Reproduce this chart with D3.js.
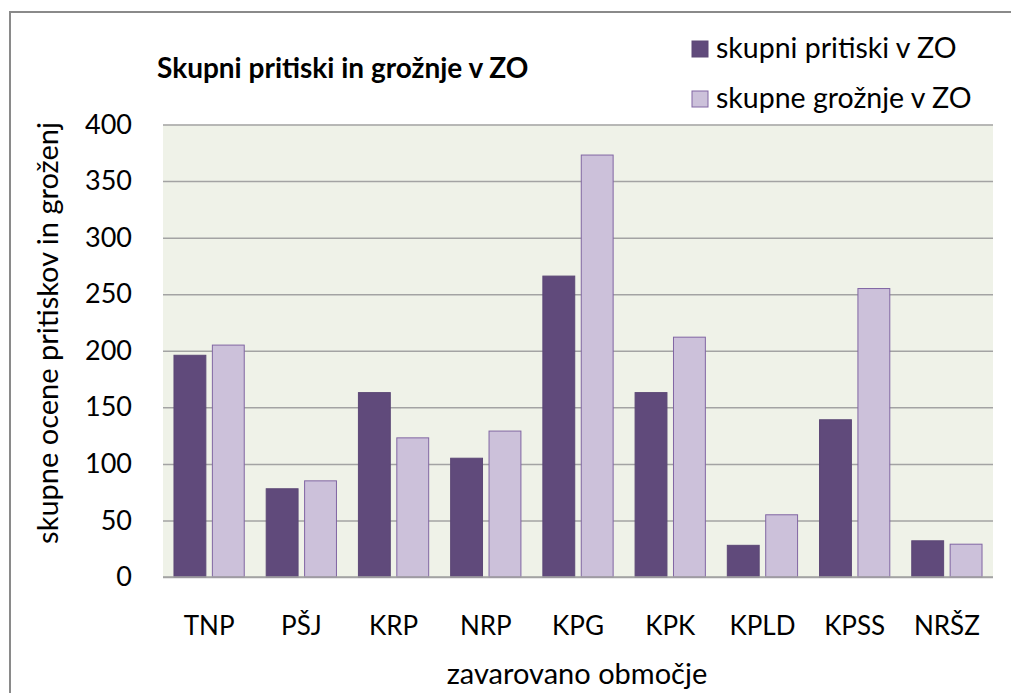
<!DOCTYPE html>
<html>
<head>
<meta charset="utf-8">
<script src="https://cdn.jsdelivr.net/npm/d3@7"></script>
<style>
  body { margin: 0; background: #fff; }
  text { font-family: Lato, "Open Sans", sans-serif; fill: #000; }
</style>
</head>
<body>
<div id="chart"></div>
<script>
// Chart data
const categories = ['TNP', 'PŠJ', 'KRP', 'NRP', 'KPG', 'KPK', 'KPLD', 'KPSS', 'NRŠZ'];
const seriesNames = ['skupni pritiski v ZO', 'skupne grožnje v ZO'];
const pritiski = [196, 78, 163, 105, 266, 163, 28, 139, 32];
const groznje = [205, 85, 123, 129, 373, 212, 55, 255, 29];
const yTicks = [0, 50, 100, 150, 200, 250, 300, 350, 400];

const W = 1011, H = 693;
const plot = { left: 163, right: 993, top: 124.5, bottom: 577 };
const fills = ['#604A7B', '#CCC1DA'];
const strokes = ['#5C4876', '#8166A3'];

const svg = d3.select('#chart').append('svg')
    .attr('width', W)
    .attr('height', H);

// chart frame (runs past the window on the right and bottom)
svg.append('rect')
    .attr('x', 10).attr('y', 12)
    .attr('width', 1040).attr('height', 720)
    .attr('fill', '#fff')
    .attr('stroke', '#8A8A8A')
    .attr('stroke-width', 2);

const x0 = d3.scaleBand()
    .domain(categories)
    .range([plot.left, plot.right]);

const x1 = d3.scaleBand()
    .domain(seriesNames)
    .range([0, x0.bandwidth()])
    .paddingInner(0.17)
    .paddingOuter(0.286);

const y = d3.scaleLinear()
    .domain([0, 400])
    .range([plot.bottom, plot.top]);

// plot background
svg.append('rect')
    .attr('x', plot.left).attr('y', plot.top)
    .attr('width', plot.right - plot.left)
    .attr('height', plot.bottom - plot.top)
    .attr('fill', '#EFF2E8');

// gridlines via axis
const grid = svg.append('g')
    .attr('transform', `translate(${plot.left},0)`)
    .call(d3.axisLeft(y).tickValues(yTicks).tickSize(-(plot.right - plot.left)).tickFormat(''));
grid.select('.domain').remove();
grid.selectAll('.tick line').attr('stroke', '#A3A3A3').attr('stroke-width', 1.5);

// y tick labels
const yAxis = svg.append('g')
    .attr('transform', `translate(${plot.left},0)`)
    .call(d3.axisLeft(y).tickValues(yTicks).tickSize(0).tickPadding(31));
yAxis.select('.domain').remove();
yAxis.selectAll('text')
    .attr('font-size', 27)
    .attr('font-family', 'Lato, sans-serif')
    .attr('fill', '#000');

// bars
const rows = categories.map((c, i) => ({ cat: c, vals: [pritiski[i], groznje[i]] }));
const groups = svg.append('g').selectAll('g')
    .data(rows)
    .join('g')
    .attr('transform', d => `translate(${x0(d.cat)},0)`);

groups.selectAll('rect')
    .data(d => d.vals.map((v, k) => ({ key: seriesNames[k], k, v })))
    .join('rect')
    .attr('x', d => x1(d.key))
    .attr('y', d => y(d.v))
    .attr('width', x1.bandwidth())
    .attr('height', d => y(0) - y(d.v))
    .attr('fill', d => fills[d.k])
    .attr('stroke', d => strokes[d.k])
    .attr('stroke-width', 1);

// zero line on top
svg.append('line')
    .attr('x1', plot.left).attr('x2', plot.right)
    .attr('y1', y(0)).attr('y2', y(0))
    .attr('stroke', '#A3A3A3').attr('stroke-width', 1.5);

// x axis labels
const xAxis = svg.append('g')
    .attr('transform', `translate(0,${plot.bottom})`)
    .call(d3.axisBottom(x0).tickSize(0).tickPadding(40));
xAxis.select('.domain').remove();
xAxis.selectAll('text')
    .attr('font-size', 26)
    .attr('font-family', 'Lato, sans-serif')
    .attr('fill', '#000');

// axis titles
svg.append('text')
    .attr('x', (plot.left + plot.right) / 2 - 1)
    .attr('y', 684)
    .attr('text-anchor', 'middle')
    .attr('font-size', 29)
    .text('zavarovano območje');

svg.append('text')
    .attr('transform', 'translate(58,333) rotate(-90)')
    .attr('text-anchor', 'middle')
    .attr('font-size', 29)
    .text('skupne ocene pritiskov in groženj');

// title
svg.append('text')
    .attr('x', 157)
    .attr('y', 78)
    .attr('font-size', 28)
    .attr('font-weight', 'bold')
    .text('Skupni pritiski in grožnje v ZO');

// legend
const legend = svg.append('g')
    .selectAll('g')
    .data(seriesNames)
    .join('g')
    .attr('transform', (d, i) => `translate(692,${i === 0 ? 41 : 91})`);

legend.append('rect')
    .attr('width', 16).attr('height', 16)
    .attr('fill', (d, i) => fills[i])
    .attr('stroke', (d, i) => strokes[i])
    .attr('stroke-width', 1);

legend.append('text')
    .attr('x', 24)
    .attr('y', 17)
    .attr('font-size', 28.5)
    .text(d => d);
</script>
</body>
</html>
